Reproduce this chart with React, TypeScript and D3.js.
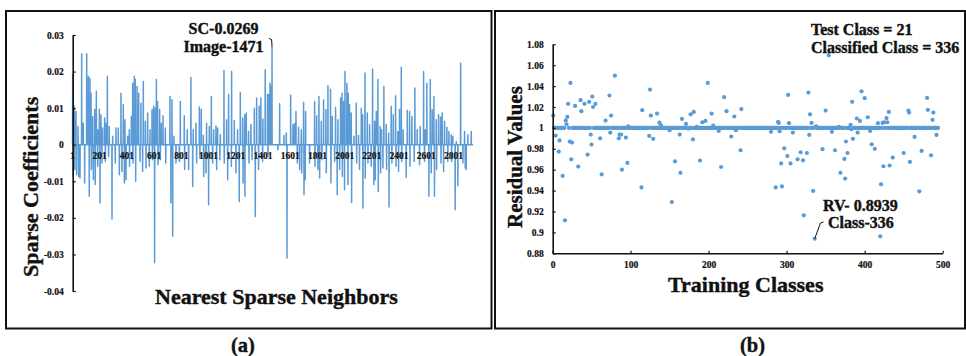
import React, { useRef, useEffect } from 'react';
import * as d3 from 'd3';

const BLUE = '#5b9bd5';
const FONT = '"Liberation Serif", "Times New Roman", serif';

// (a) sparse coefficients, [neighbor index, coefficient]
const positiveCoefficients: [number, number][] = [
    [6, 0.0191], [18, 0.0105], [30, 0.0091], [45, 0.005], [72, 0.0249], [84, 0.0059], [109, 0.0249], [121, 0.0187],
    [133, 0.0182], [141, 0.0141], [153, 0.0077], [168, 0.0096], [180, 0.0146], [192, 0.0041], [202, 0.0097], [214, 0.0082],
    [226, 0.0046], [241, 0.0073], [251, 0.0059], [261, 0.0187], [275, 0.005], [300, 0.0023], [324, 0.0046], [341, 0.0046],
    [361, 0.0141], [378, 0.0109], [390, 0.0068], [410, 0.0023], [422, 0.0041], [437, 0.0077], [447, 0.0168], [459, 0.0187],
    [466, 0.0179], [479, 0.0159], [491, 0.0141], [508, 0.0114], [525, 0.0173], [540, 0.0064], [557, 0.0087], [574, 0.0041],
    [589, 0.0096], [601, 0.0105], [613, 0.01], [621, 0.0178], [630, 0.0118], [645, 0.0096], [657, 0.0059], [670, 0.0079],
    [687, 0.0046], [721, 0.0132], [736, 0.0123], [750, 0.0023], [797, 0.0118], [826, 0.0079], [848, 0.0041], [875, 0.0184],
    [892, 0.0041], [912, 0.0059], [937, 0.0103], [951, 0.0096], [966, 0.0025], [990, 0.0059], [1010, 0.005], [1025, 0.0132],
    [1042, 0.0041], [1059, 0.0052], [1071, 0.0046], [1091, 0.0027], [1118, 0.0203], [1137, 0.0068], [1152, 0.0137], [1174, 0.02],
    [1194, 0.0066], [1218, 0.0041], [1238, 0.0143], [1255, 0.0073], [1270, 0.0082], [1282, 0.0087], [1299, 0.0036], [1316, 0.0055],
    [1341, 0.01], [1358, 0.0128], [1377, 0.0105], [1389, 0.0128], [1404, 0.007], [1421, 0.0205], [1438, 0.0137], [1447, 0.0137],
    [1456, 0.0168], [1465, 0.0159], [1471, 0.0269], [1527, 0.0112], [1559, 0.0025], [1576, 0.0032], [1608, 0.0135], [1625, 0.0055],
    [1637, 0.0057], [1647, 0.0091], [1666, 0.0048], [1686, 0.0041], [1703, 0.0116], [1718, 0.0091], [1784, 0.0118], [1799, 0.0079],
    [1816, 0.0132], [1833, 0.0064], [1850, 0.0123], [1867, 0.0096], [1882, 0.0161], [1901, 0.0152], [1914, 0.0077], [1938, 0.0102],
    [1955, 0.0068], [1975, 0.0128], [1985, 0.0141], [1997, 0.0118], [2007, 0.02], [2021, 0.0168], [2031, 0.0141], [2041, 0.0109],
    [2053, 0.0087], [2073, 0.0023], [2090, 0.0114], [2107, 0.0025], [2127, 0.01], [2137, 0.0082], [2154, 0.0196], [2171, 0.0087],
    [2188, 0.0055], [2210, 0.0207], [2225, 0.0064], [2237, 0.0091], [2249, 0.0178], [2266, 0.005], [2276, 0.0041], [2293, 0.0159],
    [2310, 0.0055], [2328, 0.0032], [2347, 0.0105], [2362, 0.0082], [2379, 0.0134], [2396, 0.0036], [2408, 0.0096], [2421, 0.0212],
    [2435, 0.0041], [2465, 0.0094], [2482, 0.0091], [2499, 0.0077], [2521, 0.0155], [2538, 0.0041], [2560, 0.005], [2585, 0.02],
    [2597, 0.0041], [2609, 0.0168], [2634, 0.0178], [2648, 0.0096], [2661, 0.0132], [2678, 0.0068], [2695, 0.0082], [2710, 0.0076],
    [2722, 0.0087], [2739, 0.0064], [2756, 0.0048], [2771, 0.0036], [2788, 0.0027], [2800, 0.0023], [2825, 0.0009], [2857, 0.0223],
    [2886, 0.0036], [2910, 0.0027], [2935, 0.0036],
];

const negativeCoefficients: [number, number][] = [
    [9, -0.0087], [21, -0.0068], [35, -0.0082], [50, -0.0087], [60, -0.0091], [94, -0.0105], [128, -0.0141], [144, -0.0068],
    [158, -0.0096], [172, -0.0109], [190, -0.0059], [207, -0.0159], [221, -0.005], [246, -0.0046], [270, -0.0032], [295, -0.0203],
    [319, -0.005], [349, -0.0082], [368, -0.0073], [386, -0.0105], [398, -0.0096], [424, -0.0059], [449, -0.005], [469, -0.01],
    [501, -0.0046], [520, -0.0073], [545, -0.0064], [569, -0.0059], [592, -0.0041], [608, -0.0323], [633, -0.0055], [650, -0.0041],
    [690, -0.005], [728, -0.0159], [741, -0.025], [765, -0.005], [790, -0.0046], [829, -0.0068], [858, -0.0068], [888, -0.0114],
    [917, -0.005], [941, -0.0036], [969, -0.0087], [986, -0.0077], [1005, -0.0164], [1035, -0.005], [1064, -0.0068], [1088, -0.0041],
    [1120, -0.005], [1145, -0.0096], [1172, -0.0059], [1206, -0.0077], [1230, -0.0155], [1258, -0.0105], [1272, -0.0141], [1302, -0.005],
    [1324, -0.0041], [1348, -0.0196], [1372, -0.0068], [1402, -0.0046], [1441, -0.0032], [1514, -0.0014], [1581, -0.031], [1657, -0.005],
    [1674, -0.0068], [1689, -0.0077], [1706, -0.0137], [1715, -0.0096], [1747, -0.005], [1787, -0.0059], [1808, -0.0068], [1821, -0.0091],
    [1838, -0.0041], [1870, -0.0077], [1904, -0.0105], [1931, -0.0046], [1950, -0.0137], [1968, -0.0068], [1988, -0.0087], [2004, -0.0123],
    [2029, -0.0109], [2056, -0.0158], [2093, -0.005], [2114, -0.0068], [2139, -0.0173], [2156, -0.0091], [2176, -0.005], [2200, -0.0059],
    [2220, -0.0109], [2230, -0.0096], [2252, -0.0128], [2269, -0.0077], [2286, -0.0064], [2313, -0.0068], [2331, -0.017], [2352, -0.005],
    [2382, -0.0059], [2401, -0.0073], [2424, -0.0046], [2457, -0.0089], [2485, -0.0059], [2516, -0.0046], [2555, -0.0055], [2592, -0.0046],
    [2624, -0.0141], [2641, -0.0077], [2665, -0.0141], [2681, -0.0068], [2713, -0.005], [2732, -0.0073], [2763, -0.0046], [2791, -0.0046],
    [2817, -0.0178], [2837, -0.0112], [2874, -0.005], [2891, -0.0064], [2898, -0.0068],
];

const neighborCount = 2948;
const neighborTicks = [1, 201, 401, 601, 801, 1001, 1201, 1401, 1601, 1801, 2001, 2201, 2401, 2601, 2801];
const coefficientTicks = [0.03, 0.02, 0.01, 0, -0.01, -0.02, -0.03, -0.04];
const coefficientLabels = ['0.03', '0.02', '0.01', '0', '-0.01', '-0.02', '-0.03', '-0.04'];

// (b) residual values, [training class, residual] for the classes off the 1.0 band
const residualOutliers: [number, number][] = [
    [1, 1.0118], [4, 0.9927], [8, 0.9773], [9, 0.988], [13, 0.954], [16, 0.9116], [17, 1.007], [18, 1.0035],
    [19, 1.0105], [20, 1.023], [22, 0.987], [23, 1.043], [24, 0.97], [25, 0.986], [29, 1.021], [33, 0.963],
    [36, 1.0265], [37, 1.016], [41, 1.023], [45, 0.9745], [47, 1.025], [49, 0.9936], [50, 0.984], [51, 1.03],
    [52, 1.02], [55, 1.023], [61, 0.99], [63, 0.9556], [68, 1.007], [73, 1.031], [74, 0.9955], [75, 1.0118],
    [80, 1.05], [85, 0.99], [86, 0.9936], [88, 0.9936], [89, 0.96], [94, 0.9907], [96, 0.9665], [97, 1.0016],
    [114, 0.943], [115, 1.017], [124, 0.9923], [125, 1.0367], [126, 1.0118], [129, 0.9895], [134, 1.0137], [137, 1.005],
    [139, 1.0025], [150, 0.9978], [153, 0.929], [157, 0.968], [163, 0.9936], [164, 0.957], [166, 1.0086], [171, 1.0038],
    [174, 0.9994], [177, 1.013], [180, 0.989], [181, 1.0153], [185, 1.001], [189, 0.9687], [192, 1.0054], [196, 1.0067],
    [199, 1.043], [204, 1.0137], [206, 1.0022], [213, 0.9971], [216, 0.9626], [220, 1.0294], [223, 1.016], [229, 0.9917],
    [233, 1.0109], [235, 0.9978], [241, 0.9786], [242, 1.018], [280, 0.9962], [286, 0.943], [289, 1.0057], [290, 1.0048],
    [291, 0.9968], [293, 0.966], [294, 0.944], [297, 0.9805], [301, 0.973], [302, 1.0316], [303, 1.0045], [305, 0.966],
    [308, 0.9955], [314, 0.97], [318, 0.9767], [321, 0.969], [322, 0.9163], [326, 0.976], [328, 1.0338], [329, 0.9933],
    [330, 1.013], [332, 1.0048], [334, 0.9397], [336, 0.8939], [337, 1.001], [338, 1.0016], [346, 0.9796], [350, 1.0166],
    [354, 1.0696], [358, 0.9962], [362, 0.9786], [367, 1.001], [369, 0.957], [374, 0.9703], [375, 0.9515], [376, 0.987],
    [378, 0.976], [382, 1.0029], [383, 0.9987], [384, 1.025], [385, 0.9895], [390, 1.009], [391, 0.9955], [394, 1.0067],
    [396, 1.035], [400, 1.0284], [404, 1.0102], [407, 0.9971], [409, 0.9843], [413, 0.98], [417, 1.0045], [420, 0.8962],
    [421, 0.946], [423, 1.0048], [424, 0.9633], [425, 1.0054], [428, 1.0093], [429, 1.0054], [431, 1.0153], [432, 0.964],
    [436, 0.9716], [450, 0.976], [456, 1.0166], [457, 1.0147], [458, 0.9674], [464, 0.9914], [470, 0.9393], [473, 0.978],
    [480, 1.0287], [481, 1.0172], [485, 0.9738], [487, 1.0077], [488, 1.0147], [492, 0.9933],
];
const classCount = 494;
const bandResidual = 1;
const classTicks = [0, 100, 200, 300, 400, 500];
const residualTicks = [1.08, 1.06, 1.04, 1.02, 1, 0.98, 0.96, 0.94, 0.92, 0.9, 0.88];
const residualLabels = ['1.08', '1.06', '1.04', '1.02', '1', '0.98', '0.96', '0.94', '0.92', '0.9', '0.88'];

const width = 966;
const height = 356;

const App = () => {
    const svgRef = useRef<SVGSVGElement>(null);

    useEffect(() => {
        const svg = d3.select(svgRef.current);
        svg.selectAll('*').remove();

        // panel frames
        svg.append('rect').attr('x', 6).attr('y', 11).attr('width', 485.5).attr('height', 317.5)
            .attr('fill', 'none').attr('stroke', '#111').attr('stroke-width', 2);
        svg.append('rect').attr('x', 495).attr('y', 11).attr('width', 470).attr('height', 317.5)
            .attr('fill', 'none').attr('stroke', '#111').attr('stroke-width', 2);

        // ---------- (a) ----------
        const xA = d3.scaleLinear().domain([1, 2801]).range([72, 453]);
        const yA = d3.scaleLinear().domain([-0.04, 0.03]).range([291, 35]);

        const series: number[] = new Array(neighborCount).fill(0);
        [...positiveCoefficients, ...negativeCoefficients].forEach(([i, v]) => { series[i - 1] = v; });

        const line = d3.line<number>()
            .x((d, i) => xA(i + 1))
            .y(d => yA(d));

        svg.append('path')
            .attr('d', line(series))
            .attr('fill', 'none')
            .attr('stroke', BLUE)
            .attr('stroke-width', 1.5)
            .attr('stroke-linejoin', 'round');

        const yAxisA = svg.append('g')
            .attr('transform', 'translate(72.7,0)')
            .call(d3.axisLeft(yA).tickValues(coefficientTicks)
                .tickFormat((d, i) => coefficientLabels[i])
                .tickSizeInner(-3).tickSizeOuter(0).tickPadding(9));
        yAxisA.select('.domain').attr('stroke', '#111').attr('stroke-width', 1.6);
        yAxisA.selectAll('line').attr('stroke', '#111').attr('stroke-width', 1.2);

        const xAxisA = svg.append('g')
            .attr('transform', `translate(0,${yA(0)})`)
            .call(d3.axisBottom(xA).tickValues(neighborTicks).tickFormat(d3.format('d'))
                .tickSize(0).tickPadding(8));
        xAxisA.select('.domain').remove();

        // ---------- (b) ----------
        const xB = d3.scaleLinear().domain([0, 500]).range([552.5, 942.7]);
        const yB = d3.scaleLinear().domain([0.88, 1.08]).range([253.3, 44.3]);

        const outlierClasses = new Set(residualOutliers.map(d => d[0]));
        const band: [number, number][] = d3.range(1, classCount + 1)
            .filter(c => !outlierClasses.has(c))
            .map(c => [c, bandResidual]);

        svg.append('g').selectAll('circle')
            .data([...band, ...residualOutliers])
            .join('circle')
            .attr('cx', d => xB(d[0]))
            .attr('cy', d => yB(d[1]))
            .attr('r', 2.1)
            .attr('fill', BLUE);

        const yAxisB = svg.append('g')
            .attr('transform', 'translate(552.7,0)')
            .call(d3.axisLeft(yB).tickValues(residualTicks)
                .tickFormat((d, i) => residualLabels[i])
                .tickSizeInner(-3).tickSizeOuter(0).tickPadding(9));
        yAxisB.select('.domain').attr('stroke', '#111').attr('stroke-width', 1.6);
        yAxisB.selectAll('line').attr('stroke', '#111').attr('stroke-width', 1.2);

        const xAxisB = svg.append('g')
            .attr('transform', `translate(0,${yB(0.88)})`)
            .call(d3.axisBottom(xB).tickValues(classTicks).tickFormat(d3.format('d'))
                .tickSizeInner(-2.5).tickSizeOuter(0).tickPadding(8));
        xAxisB.select('.domain').attr('stroke', '#111').attr('stroke-width', 1.6);
        xAxisB.selectAll('line').attr('stroke', '#111').attr('stroke-width', 1.2);

        svg.selectAll('.tick text')
            .attr('fill', '#111')
            .attr('stroke', '#111')
            .attr('stroke-width', 0.2)
            .style('font-family', FONT)
            .style('font-weight', 700)
            .style('font-size', '9.5px');

        // ---------- titles and notes ----------
        const text = (x: number, y: number, s: string, size: number, anchor = 'start', rotate = false) =>
            svg.append('text')
                .attr('transform', rotate ? `translate(${x},${y}) rotate(-90)` : `translate(${x},${y})`)
                .attr('text-anchor', anchor)
                .attr('fill', '#111')
                .attr('stroke', '#111')
                .attr('stroke-width', 0.4)
                .style('font-family', FONT)
                .style('font-weight', 700)
                .style('font-size', `${size}px`)
                .text(s);

        text(38, 277, 'Sparse Coefficients', 22, 'start', true);
        text(155, 303.5, 'Nearest Sparse Neighbors', 22);
        text(223.5, 34, 'SC-0.0269', 16, 'middle');
        text(223.5, 52, 'Image-1471', 16, 'middle');
        svg.append('path')
            .attr('d', `M269,38.5 L271.6,39.5 L${xA(1471)},${yA(0.0269)}`)
            .attr('fill', 'none').attr('stroke', '#111').attr('stroke-width', 1);

        text(521.5, 228, 'Residual Values', 21, 'start', true);
        text(668, 291.7, 'Training Classes', 22);
        text(811, 35, 'Test Class = 21', 16);
        text(811, 52.7, 'Classified Class = 336', 16);
        text(823, 210.7, 'RV- 0.8939', 16);
        text(828, 228, 'Class-336', 16);
        svg.append('path')
            .attr('d', `M${xB(336)},${yB(0.8939)} L820.5,223 L823.5,222`)
            .attr('fill', 'none').attr('stroke', '#111').attr('stroke-width', 1);

        text(243, 351.5, '(a)', 20.5, 'middle');
        text(752.5, 351.5, '(b)', 20.5, 'middle');
    }, []);

    return (
        <div style={{ position: 'absolute', left: 0, top: 0 }}>
            <svg ref={svgRef} width={width} height={height} style={{ display: 'block', background: '#fff' }} />
        </div>
    );
};

export default App;
